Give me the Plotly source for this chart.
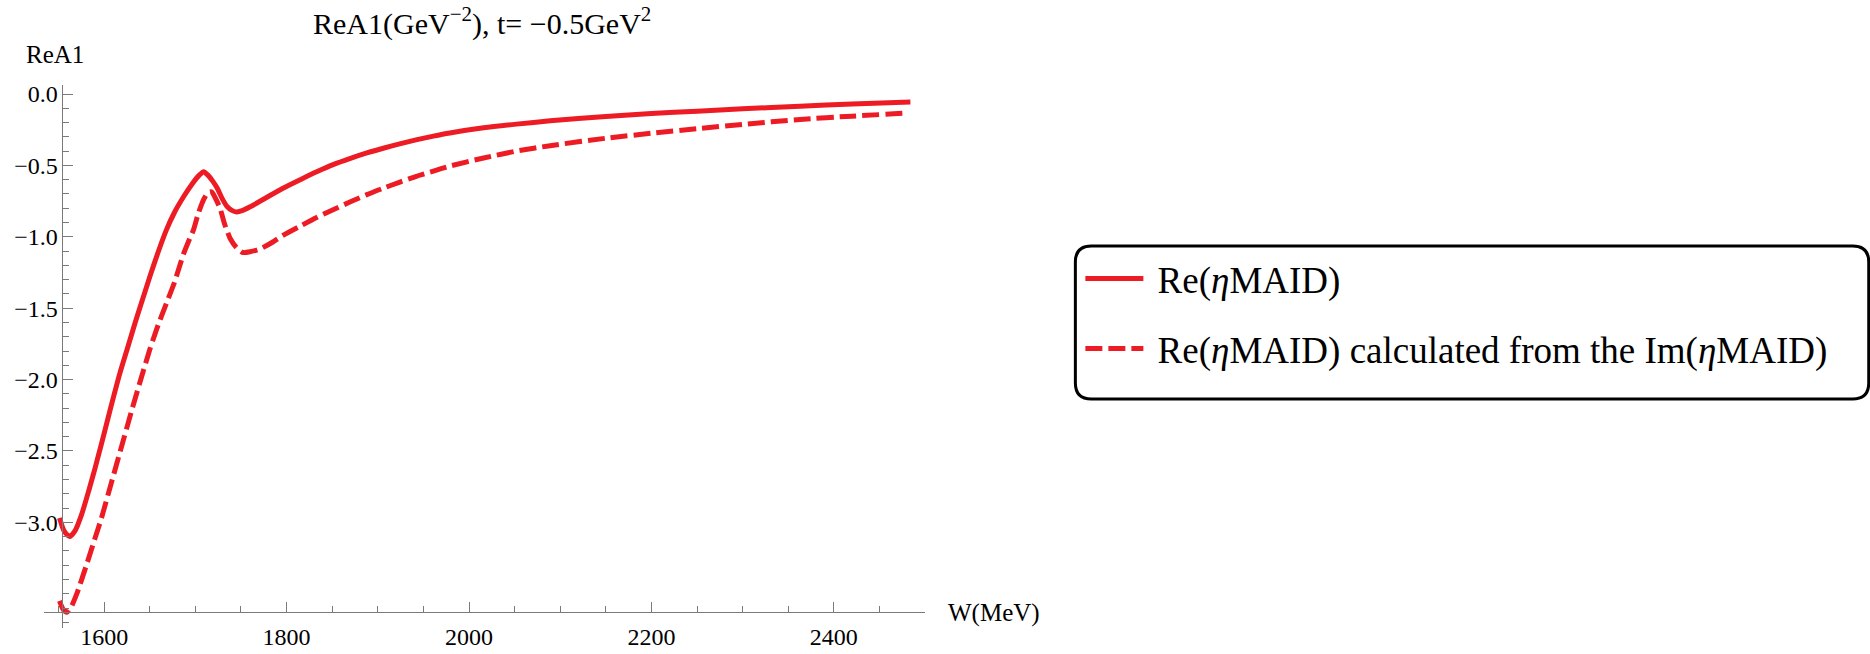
import plotly.graph_objects as go

# ---- data ----
W_solid = [1551, 1556, 1562, 1568, 1575, 1583, 1590, 1597, 1607, 1617, 1626, 1634, 1642,
           1650, 1659, 1668, 1677, 1687, 1697, 1704, 1709, 1714, 1719, 1724, 1730, 1735,
           1740, 1745, 1752, 1760, 1778, 1796, 1815, 1833, 1851, 1870, 1888, 1906, 1925,
           1943, 1961, 1979, 2016, 2052, 2089, 2150, 2200, 2250, 2300, 2363, 2420, 2484]
re_solid = [-2.97, -3.06, -3.10, -3.06, -2.95, -2.78, -2.62, -2.45, -2.20, -1.96, -1.77, -1.60, -1.44,
            -1.28, -1.11, -0.955, -0.83, -0.72, -0.625, -0.57, -0.545, -0.57, -0.61, -0.66, -0.74, -0.79,
            -0.815, -0.826, -0.815, -0.79, -0.725, -0.66, -0.60, -0.545, -0.495, -0.451, -0.413, -0.380, -0.348,
            -0.320, -0.295, -0.273, -0.237, -0.211, -0.188, -0.158, -0.137, -0.120, -0.104, -0.085, -0.07, -0.056]

W_dash = [1551, 1555, 1559, 1564, 1570, 1580, 1590, 1597, 1608, 1619, 1630, 1641, 1650,
          1659, 1668, 1677, 1683, 1687, 1692, 1698, 1703, 1709, 1714, 1718, 1722, 1727,
          1732, 1738, 1745, 1752, 1760, 1771, 1784, 1796, 1815, 1833, 1851, 1870, 1888,
          1906, 1925, 1943, 1961, 1979, 2016, 2052, 2089, 2150, 2200, 2250, 2300, 2363, 2420, 2477]
re_dash = [-3.55, -3.61, -3.63, -3.59, -3.50, -3.31, -3.11, -2.97, -2.72, -2.47, -2.22, -1.98, -1.79,
           -1.62, -1.47, -1.32, -1.20, -1.12, -1.04, -0.95, -0.84, -0.74, -0.69, -0.686, -0.73, -0.80,
           -0.91, -1.01, -1.075, -1.11, -1.105, -1.085, -1.04, -0.99, -0.925, -0.865, -0.81, -0.755, -0.705,
           -0.66, -0.615, -0.575, -0.54, -0.505, -0.448, -0.40, -0.362, -0.31, -0.275, -0.243, -0.213, -0.178, -0.155, -0.135]

x_major = [1600, 1800, 2000, 2200, 2400]
x_major_text = ["1600", "1800", "2000", "2200", "2400"]
y_major = [0.0, -0.5, -1.0, -1.5, -2.0, -2.5, -3.0]
y_major_text = ["0.0", "\u22120.5", "\u22121.0", "\u22121.5", "\u22122.0", "\u22122.5", "\u22123.0"]

name_solid = "\u00a0Re(<i>\u03b7</i>MAID)"
name_dash = "\u00a0Re(<i>\u03b7</i>MAID) calculated from the Im(<i>\u03b7</i>MAID)"
title_text = "ReA1(GeV<sup>\u22122</sup>), t= \u22120.5GeV<sup>2</sup>"

# ---- layout geometry ----
FW, FH = 1870, 654
L, R = 44.1, 924.7
T, B = 85.0, 628.0
XR = [1534, 2500]
YR = [-3.74, 0.063]
X_AXIS_AT_PX = 612.0
Y_AXIS_AT_PX = 61.7

RED = "#ED1C24"
AXC = "#7a7a7a"
FONT = "Liberation Serif"


def pxx(p):
    return (p - L) / (R - L)


def pxy(p):
    return (B - p) / (B - T)


fig = go.Figure()
fig.add_trace(go.Scatter(x=W_solid, y=re_solid, mode="lines", name=name_solid,
                         line=dict(color=RED, width=5, shape="spline", smoothing=0.6),
                         legend="legend"))
fig.add_trace(go.Scatter(x=W_dash, y=re_dash, mode="lines", name=name_dash,
                         line=dict(color=RED, width=5, dash="17px,6px", shape="spline", smoothing=0.6),
                         legend="legend2"))

axis_common = dict(showgrid=False, zeroline=False, showline=True, linecolor=AXC, linewidth=1,
                   ticks="inside", ticklen=10, tickwidth=1, tickcolor=AXC,
                   tickfont=dict(family=FONT, size=24, color="black"), anchor="free",
                   fixedrange=True)

fig.update_layout(
    width=FW, height=FH,
    margin=dict(l=L, r=FW - R, t=T, b=FH - B, autoexpand=False),
    paper_bgcolor="white", plot_bgcolor="white",
    xaxis=dict(range=XR, tickmode="array", tickvals=x_major, ticktext=x_major_text,
               position=pxy(X_AXIS_AT_PX), automargin=False, ticklabelstandoff=3,
               minor=dict(tickmode="linear", tick0=0, dtick=50, ticks="inside", ticklen=6,
                          tickcolor=AXC, tickwidth=1),
               **axis_common),
    yaxis=dict(range=YR, tickmode="array", tickvals=y_major, ticktext=y_major_text,
               position=pxx(Y_AXIS_AT_PX), automargin=False, ticklabelstandoff=-1,
               minor=dict(tickmode="linear", tick0=0, dtick=0.1, ticks="inside", ticklen=6,
                          tickcolor=AXC, tickwidth=1),
               **axis_common),
    legend=dict(x=pxx(1080), y=pxy(279), xanchor="left", yanchor="middle",
                font=dict(family=FONT, size=37, color="black"), bgcolor="rgba(0,0,0,0)",
                borderwidth=0, itemwidth=58),
    legend2=dict(x=pxx(1080), y=pxy(349), xanchor="left", yanchor="middle",
                 font=dict(family=FONT, size=37, color="black"), bgcolor="rgba(0,0,0,0)",
                 borderwidth=0, itemwidth=58),
    showlegend=True,
)

# title and axis labels
fig.add_annotation(text=title_text, xref="paper", yref="paper", x=pxx(482), y=pxy(22),
                   xanchor="center", yanchor="middle", showarrow=False,
                   font=dict(family=FONT, size=30, color="black"))
fig.add_annotation(text="ReA1", xref="paper", yref="paper", x=pxx(55), y=pxy(54),
                   xanchor="center", yanchor="middle", showarrow=False,
                   font=dict(family=FONT, size=25, color="black"))
fig.add_annotation(text="W(MeV)", xref="paper", yref="paper", x=pxx(946), y=pxy(613),
                   xanchor="left", yanchor="middle", showarrow=False,
                   font=dict(family=FONT, size=25, color="black"))

# rounded legend frame
x0, x1 = pxx(1075), pxx(1868)
y0, y1 = pxy(399), pxy(246)
rx = 16 / (R - L)
ry = 16 / (B - T)
path = (f"M{x0 + rx},{y1} L{x1 - rx},{y1} Q{x1},{y1} {x1},{y1 - ry} "
        f"L{x1},{y0 + ry} Q{x1},{y0} {x1 - rx},{y0} L{x0 + rx},{y0} "
        f"Q{x0},{y0} {x0},{y0 + ry} L{x0},{y1 - ry} Q{x0},{y1} {x0 + rx},{y1} Z")
fig.add_shape(type="path", path=path, xref="paper", yref="paper",
              line=dict(color="black", width=3), fillcolor="rgba(0,0,0,0)")

fig.write_html("out.html")
